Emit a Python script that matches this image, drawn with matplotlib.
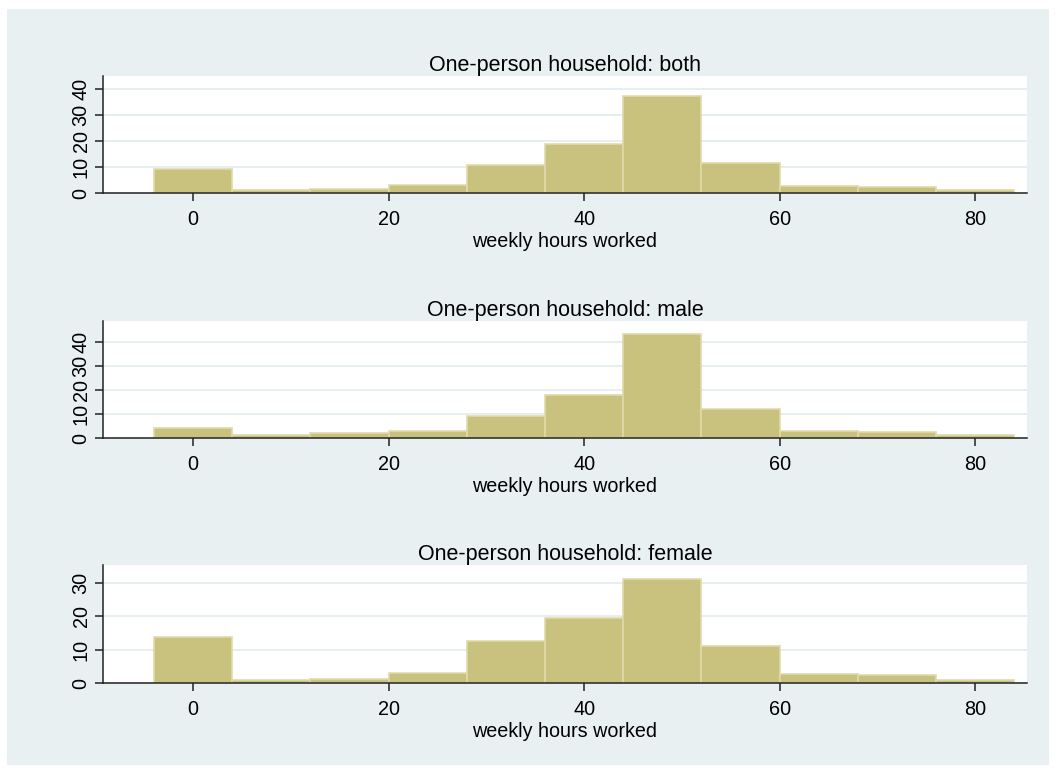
import numpy as np
import matplotlib
matplotlib.use("Agg")
import matplotlib.pyplot as plt
from matplotlib.patches import Rectangle

plt.rcParams['font.family'] = ['Liberation Sans', 'DejaVu Sans']

# 8-hour bins centred on 0, 8, ..., 80 (percent of respondents)
bin_edges = np.arange(-4, 85, 8)
pct_both = [9.2, 1.3, 1.7, 3.0, 10.9, 18.9, 37.6, 11.7, 2.8, 2.4, 1.4]
pct_male = [4.3, 1.4, 2.0, 3.0, 9.1, 17.9, 43.3, 12.3, 3.0, 2.5, 1.5]
pct_female = [13.9, 1.1, 1.4, 3.0, 12.5, 19.6, 31.2, 11.0, 2.7, 2.5, 1.1]

titles = ["One-person household: both",
          "One-person household: male",
          "One-person household: female"]
series = [pct_both, pct_male, pct_female]
y_tops = [45.1, 48.6, 35.3]
y_ticks = [[0, 10, 20, 30, 40], [0, 10, 20, 30, 40], [0, 10, 20, 30]]
x_ticks = [0, 20, 40, 60, 80]

W, H = 1057, 774
bg = '#E9F0F2'
bar_fill = '#C9C27E'
bar_edge = '#DFDAA9'

fig = plt.figure(figsize=(W / 100, H / 100), dpi=100)
fig.patch.set_facecolor('white')
fig.patches.append(Rectangle((7 / W, 9 / H), (W - 15) / W, (H - 18) / H,
                             transform=fig.transFigure, facecolor=bg,
                             edgecolor='none', zorder=-10))

# plot region bounds in pixels (top, bottom)
boxes = [(76, 193.3), (320.7, 438.3), (565, 683.3)]
left_px, right_px = 103, 1027

for (top, bot), title, vals, ytop, yt in zip(boxes, titles, series, y_tops, y_ticks):
    ax = fig.add_axes([left_px / W, 1 - bot / H, (right_px - left_px) / W, (bot - top) / H])
    ax.set_facecolor('white')
    ax.bar(bin_edges[:-1], vals, width=8, align='edge', color=bar_fill,
           edgecolor=bar_edge, linewidth=1.2, zorder=3)
    ax.set_xlim(-9.2, 85.3)
    ax.set_ylim(0, ytop)
    ax.set_xticks(x_ticks)
    ax.set_yticks(yt)
    ax.set_yticklabels([str(v) for v in yt], rotation=90, va='center')
    ax.grid(axis='y', color='#E6EEF1', linewidth=1.4, zorder=0)
    ax.set_axisbelow(True)
    for s in ['top', 'right']:
        ax.spines[s].set_visible(False)
    for s in ['left', 'bottom']:
        ax.spines[s].set_color('#222222')
        ax.spines[s].set_linewidth(1.1)
        ax.spines[s].set_zorder(4)
    ax.tick_params(axis='both', direction='out', length=6, width=1.1,
                   color='#222222', labelsize=14.3, pad=3)
    ax.tick_params(axis='x', pad=6)
    ax.set_title(title, fontsize=15.5, pad=3)
    ax.set_xlabel('weekly hours worked', fontsize=14.2, labelpad=2)

fig.savefig('out.png', dpi=100, facecolor=fig.get_facecolor())
